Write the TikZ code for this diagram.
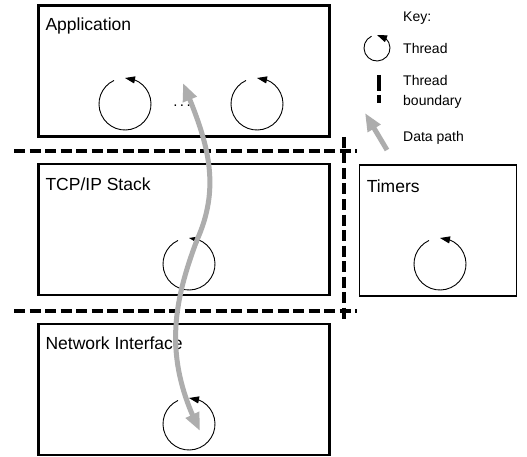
\documentclass[tikz,border=0pt]{standalone}
\usepackage{fontspec}
\setmainfont{Liberation Sans}
\usetikzlibrary{arrows.meta,bending,calc}

\begin{document}
\begin{tikzpicture}[x=1pt,y=1pt,
	box/.style={draw,line width=2.3pt,minimum width=291pt,minimum height=131pt,inner sep=0pt},
	lbl/.style={anchor=base west,inner sep=0pt,font=\fontsize{17.5}{20}\selectfont},
	keytext/.style={anchor=base west,inner sep=0pt,font=\fontsize{14}{17}\selectfont},
	thread/.style={line width=0.9pt,-{Triangle[length=10pt,width=7pt,flex]}},
	boundary/.style={line width=4pt,dash pattern=on 11pt off 4.5pt},
	datapath/.style={line width=5pt,draw=black!32,>={Triangle[length=18pt,width=14pt]}}]
\useasboundingbox[fill=white] (0,0) rectangle (527,-457);

\node[box] (app) at (184,-71) {};
\node[box] (tcp) at (184,-229.5) {};
\node[box,minimum width=157pt,line width=1.8pt] (timers) at (438,-230.5) {};
\node[box] (netif) at (184,-389.5) {};

\node[lbl] at ($(app.north west)+(8,-26)$) {Application};
\node[lbl] at ($(tcp.north west)+(8,-28)$) {TCP/IP Stack};
\node[lbl] at ($(timers.north west)+(8,-28)$) {Timers};
\node[lbl] at ($(netif.north west)+(8,-27)$) {Network Interface};

\foreach \n/\x/\y/\r in {appa/125/104/26, appb/257/104/26, tcp/189/264/26,
		timer/440/264/26, netif/189/424/26, key/377/48/13}{
	\coordinate (th-\n) at (\x,-\y);
	\draw[thread] ($(th-\n)+(115:\r)$) arc[start angle=115,end angle=450,radius=\r];
}
\node[anchor=base,inner sep=0pt,font=\fontsize{15}{17}\selectfont] (dots) at (182,-107) {.\kern2.5pt.\kern2.5pt.};

\draw[boundary] (14,-151) -- (357,-151);
\draw[boundary] (14,-311) -- (357,-311);
\draw[boundary] (344,-137) -- (344,-323);

\coordinate (dp-top) at ($(th-appa)+(58,21)$);
\coordinate (dp-bot) at ($(th-netif)+(11,-7)$);
\draw[datapath,<->] (dp-bot) .. controls (164,-360) and (172,-306) .. (197,-240)
	.. controls (222,-184) and (207,-140) .. (dp-top);

\node[keytext] (key) at (403,-22) {Key:};
\node[keytext] (k-thread) at (403,-54) {Thread};
\node[keytext] (k-bound) at (403,-86) {Thread};
\node[keytext] (k-bound2) at (403,-106) {boundary};
\node[keytext] (k-data) at (403,-142) {Data path};
\draw[boundary,line width=3.5pt,dash pattern=on 16pt off 4pt] (379,-75) -- (379,-103);
\coordinate (kd-a) at (387,-150);
\coordinate (kd-b) at (365,-113);
\draw[datapath,->] (kd-a) -- (kd-b);
\end{tikzpicture}
\end{document}
